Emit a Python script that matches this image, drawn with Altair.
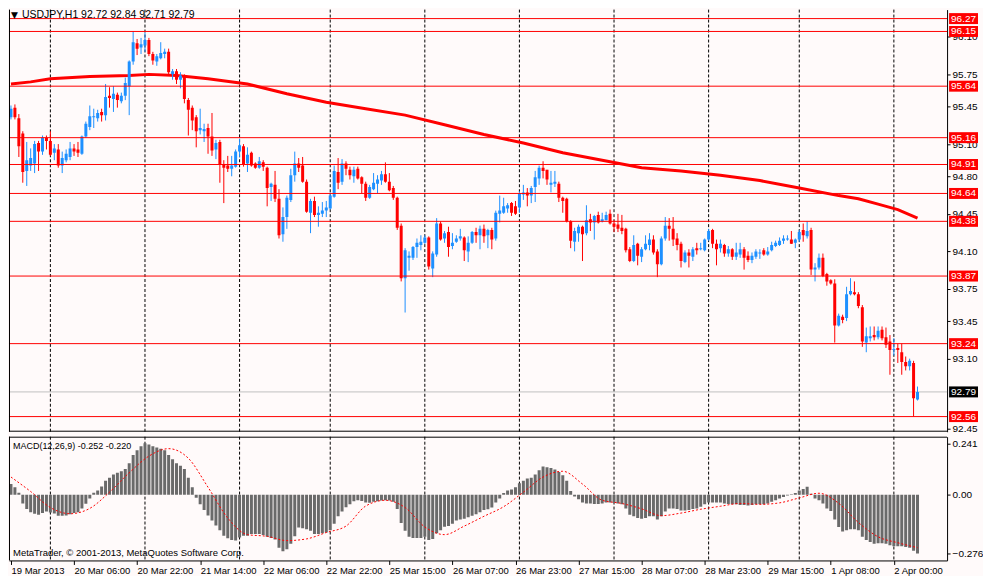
import altair as alt
import pandas as pd
import numpy as np

# ---------------- data ----------------
opens = [95.35,95.44,95.34,95.20,94.85,94.90,94.92,95.11,95.03,95.16,95.13,95.02,95.05,94.90,94.95,94.98,95.06,95.05,95.01,95.17,
         95.26,95.35,95.34,95.40,95.37,95.55,95.52,95.56,95.50,95.55,95.64,95.87,96.04,96.00,96.02,96.07,95.94,95.87,95.90,95.94,
         95.96,95.75,95.78,95.70,95.73,95.51,95.44,95.35,95.23,95.22,95.25,95.17,95.05,95.12,94.91,94.90,94.87,94.89,95.03,95.08,
         94.92,95.02,94.92,94.88,94.93,94.88,94.70,94.72,94.59,94.26,94.42,94.58,94.81,94.92,94.90,94.75,94.46,94.57,94.44,94.45,
         94.48,94.50,94.61,94.84,94.75,94.92,94.86,94.80,94.87,94.79,94.73,94.60,94.68,94.73,94.76,94.82,94.75,94.69,94.60,94.34,
         93.85,94.04,94.04,94.14,94.16,94.18,94.23,93.94,94.07,94.36,94.22,94.28,94.15,94.19,94.22,94.23,94.10,94.18,94.28,94.25,
         94.31,94.25,94.30,94.22,94.45,94.46,94.50,94.55,94.52,94.51,94.63,94.65,94.62,94.70,94.78,94.88,94.86,94.72,94.73,94.73,
         94.60,94.59,94.38,94.19,94.27,94.33,94.27,94.40,94.37,94.44,94.38,94.39,94.45,94.36,94.35,94.32,94.31,94.12,94.01,94.17,
         94.05,94.12,94.16,94.21,94.10,93.98,94.22,94.34,94.31,94.22,94.17,94.00,94.09,94.05,94.13,94.12,94.11,94.21,94.30,94.17,
         94.13,94.16,94.08,94.12,94.05,94.07,94.12,94.06,94.02,94.05,94.08,94.11,94.07,94.11,94.15,94.16,94.20,94.21,94.21,94.18,
         94.21,94.30,94.24,94.30,93.93,93.95,94.04,93.89,93.83,93.80,93.41,93.49,93.48,93.70,93.72,93.70,93.58,93.25,93.29,93.32,
         93.30,93.37,93.30,93.26,93.18,93.20,93.16,93.07,93.03,93.06,92.72]
highs = [95.46,95.47,95.38,95.22,95.12,95.06,95.13,95.13,95.18,95.18,95.22,95.10,95.10,95.03,95.05,95.12,95.10,95.12,95.18,95.31,
         95.46,95.43,95.42,95.43,95.66,95.63,95.64,95.58,95.58,95.72,95.88,96.15,96.08,96.09,96.14,96.09,95.96,95.94,96.05,95.99,
         95.99,95.80,95.80,95.77,95.75,95.53,95.46,95.37,95.43,95.29,95.29,95.39,95.14,95.14,94.95,94.99,94.99,95.05,95.15,95.10,
         95.07,95.03,94.93,94.98,94.95,94.89,94.74,94.85,94.68,94.51,94.62,94.87,95.03,94.97,94.98,94.77,94.59,94.61,94.52,94.56,
         94.57,94.65,94.90,94.97,94.96,94.94,94.89,94.89,94.89,94.80,94.75,94.72,94.83,94.81,94.85,94.93,94.83,94.71,94.61,94.36,
         94.13,94.10,94.15,94.22,94.25,94.25,94.24,94.10,94.41,94.38,94.29,94.33,94.27,94.25,94.31,94.24,94.24,94.29,94.32,94.34,
         94.35,94.31,94.32,94.48,94.62,94.60,94.55,94.56,94.57,94.66,94.72,94.69,94.71,94.85,94.90,94.94,94.86,94.85,94.85,94.75,
         94.61,94.60,94.39,94.32,94.35,94.34,94.53,94.45,94.44,94.47,94.46,94.47,94.49,94.39,94.45,94.44,94.32,94.14,94.25,94.18,
         94.14,94.25,94.27,94.25,94.12,94.24,94.42,94.41,94.42,94.27,94.19,94.11,94.12,94.14,94.18,94.18,94.22,94.31,94.31,94.21,
         94.21,94.17,94.15,94.13,94.18,94.18,94.14,94.10,94.09,94.12,94.12,94.13,94.14,94.19,94.20,94.23,94.25,94.25,94.29,94.22,
         94.30,94.36,94.38,94.32,93.99,94.08,94.08,93.90,93.84,93.84,93.52,93.51,93.77,93.85,93.82,93.72,93.60,93.39,93.40,93.40,
         93.40,93.40,93.39,93.32,93.29,93.24,93.24,93.12,93.10,93.08,92.84]
lows = [95.33,95.33,94.98,94.74,94.71,94.85,94.83,94.85,95.00,95.05,94.99,94.95,94.88,94.83,94.93,94.95,94.99,94.98,95.00,95.16,
        95.23,95.25,95.31,95.31,95.32,95.44,95.40,95.44,95.48,95.51,95.37,95.84,95.93,95.94,95.96,95.92,95.84,95.83,95.89,95.90,
        95.75,95.70,95.66,95.62,95.48,95.18,95.23,95.07,95.19,95.12,95.01,94.99,94.96,94.74,94.55,94.84,94.80,94.88,94.98,94.89,
        94.84,94.89,94.87,94.87,94.85,94.52,94.57,94.56,94.22,94.19,94.31,94.56,94.75,94.84,94.74,94.46,94.27,94.42,94.33,94.42,
        94.42,94.49,94.60,94.68,94.72,94.81,94.77,94.74,94.77,94.64,94.57,94.59,94.67,94.64,94.72,94.74,94.66,94.58,94.30,93.82,
        93.53,93.92,94.02,94.04,94.11,94.17,93.93,93.86,94.05,94.20,94.18,94.05,94.12,94.18,94.20,94.01,94.00,94.17,94.18,94.12,
        94.18,94.13,94.12,94.20,94.37,94.45,94.46,94.43,94.44,94.46,94.58,94.52,94.55,94.56,94.72,94.78,94.72,94.65,94.70,94.56,
        94.46,94.37,94.13,94.10,94.19,94.01,94.25,94.29,94.21,94.36,94.37,94.39,94.35,94.28,94.28,94.26,94.09,94.00,94.00,93.97,
        94.00,94.11,94.11,94.07,93.86,93.97,94.20,94.20,94.15,94.11,93.95,93.99,93.95,94.01,94.07,94.11,94.10,94.20,94.13,93.97,
        94.09,94.05,94.05,94.02,94.02,94.04,93.93,94.00,93.99,94.03,94.03,94.06,94.06,94.10,94.14,94.15,94.17,94.20,94.17,94.13,
        94.19,94.19,94.22,93.88,93.82,93.93,93.86,93.78,93.79,93.25,93.40,93.43,93.45,93.69,93.69,93.57,93.21,93.16,93.26,93.27,
        93.28,93.27,93.20,92.95,93.13,93.06,92.95,92.99,92.99,92.56,92.71]
closes = [95.43,95.35,95.08,94.84,94.95,94.97,95.10,95.03,95.16,95.13,95.00,95.06,94.90,94.97,95.01,95.06,95.03,95.02,95.17,95.29,
          95.36,95.36,95.39,95.37,95.54,95.53,95.57,95.51,95.55,95.67,95.87,96.05,95.99,96.03,96.07,95.94,95.88,95.92,95.95,95.96,
          95.77,95.78,95.70,95.74,95.52,95.42,95.32,95.22,95.25,95.24,95.17,95.04,95.11,94.91,94.88,94.87,94.90,95.03,95.09,94.91,
          95.00,94.90,94.88,94.94,94.89,94.69,94.73,94.59,94.25,94.42,94.60,94.81,94.92,94.88,94.75,94.47,94.57,94.44,94.46,94.48,
          94.51,94.62,94.85,94.74,94.92,94.87,94.81,94.86,94.78,94.73,94.60,94.70,94.74,94.77,94.82,94.75,94.67,94.60,94.32,93.85,
          94.11,94.06,94.14,94.18,94.19,94.23,93.96,94.08,94.36,94.21,94.27,94.14,94.18,94.22,94.24,94.11,94.18,94.28,94.25,94.31,
          94.24,94.30,94.21,94.46,94.48,94.52,94.53,94.46,94.45,94.64,94.65,94.62,94.69,94.79,94.88,94.85,94.77,94.74,94.75,94.60,
          94.57,94.38,94.20,94.29,94.33,94.26,94.39,94.37,94.43,94.37,94.40,94.44,94.36,94.33,94.31,94.29,94.11,94.01,94.16,94.06,
          94.12,94.17,94.21,94.09,93.98,94.22,94.34,94.31,94.21,94.16,94.01,94.09,94.06,94.12,94.11,94.13,94.21,94.29,94.17,94.12,
          94.17,94.08,94.12,94.05,94.09,94.12,94.04,94.02,94.06,94.10,94.09,94.07,94.10,94.16,94.18,94.20,94.22,94.22,94.17,94.21,
          94.28,94.25,94.29,93.93,93.95,94.04,93.87,93.82,93.80,93.41,93.50,93.46,93.70,93.73,93.70,93.59,93.26,93.31,93.31,93.30,
          93.36,93.29,93.23,93.18,93.19,93.18,93.07,93.03,93.08,92.73,92.79]

macd_hist = [0.050,0.035,0.009,-0.041,-0.067,-0.082,-0.089,-0.094,-0.086,-0.079,-0.083,-0.088,-0.098,-0.098,-0.097,-0.091,-0.086,-0.082,-0.064,-0.042,
             -0.018,0.009,0.020,0.039,0.065,0.080,0.095,0.103,0.110,0.121,0.148,0.186,0.209,0.227,0.241,0.236,0.227,0.221,0.216,0.209,
             0.186,0.166,0.148,0.136,0.121,0.080,0.035,-0.014,-0.045,-0.071,-0.097,-0.121,-0.144,-0.166,-0.192,-0.204,-0.212,-0.215,-0.200,-0.192,
             -0.192,-0.184,-0.184,-0.184,-0.189,-0.197,-0.203,-0.210,-0.248,-0.265,-0.256,-0.230,-0.195,-0.154,-0.157,-0.162,-0.169,-0.184,-0.184,-0.181,
             -0.177,-0.166,-0.136,-0.101,-0.079,-0.059,-0.045,-0.030,-0.026,-0.029,-0.036,-0.038,-0.033,-0.030,-0.027,-0.026,-0.027,-0.033,-0.067,-0.132,
             -0.169,-0.197,-0.203,-0.203,-0.203,-0.197,-0.212,-0.207,-0.181,-0.166,-0.150,-0.147,-0.136,-0.121,-0.116,-0.112,-0.106,-0.098,-0.091,-0.082,
             -0.071,-0.068,-0.060,-0.036,-0.018,0.008,0.020,0.024,0.035,0.054,0.065,0.076,0.080,0.095,0.115,0.132,0.129,0.125,0.118,0.106,
             0.091,0.065,0.017,-0.008,-0.021,-0.036,-0.041,-0.041,-0.044,-0.044,-0.041,-0.036,-0.036,-0.038,-0.041,-0.045,-0.064,-0.094,-0.101,-0.109,
             -0.112,-0.109,-0.101,-0.101,-0.116,-0.101,-0.079,-0.064,-0.064,-0.067,-0.074,-0.074,-0.071,-0.067,-0.064,-0.056,-0.045,-0.036,-0.036,-0.036,
             -0.036,-0.041,-0.044,-0.045,-0.045,-0.048,-0.048,-0.051,-0.048,-0.045,-0.045,-0.045,-0.041,-0.033,-0.026,-0.018,-0.011,-0.003,0.002,0.008,
             0.020,0.027,0.038,0.005,-0.018,-0.026,-0.041,-0.064,-0.076,-0.116,-0.151,-0.172,-0.166,-0.162,-0.162,-0.166,-0.197,-0.212,-0.222,-0.230,
             -0.227,-0.227,-0.230,-0.237,-0.242,-0.242,-0.242,-0.245,-0.248,-0.262,-0.276]

signal_idx = [0,5,10,15,20,25,30,35,40,45,50,55,60,65,70,75,80,85,90,95,100,105,110,115,120,125,130,135,140,145,150,
              155,160,165,170,175,180,185,190,195,200,205,210,215,220,225,230]
signal_val = [0.083,0.015,-0.060,-0.089,-0.064,0.012,0.103,0.181,0.216,0.171,0.035,-0.109,-0.187,-0.195,-0.215,-0.207,-0.177,
              -0.147,-0.053,-0.026,-0.060,-0.151,-0.187,-0.147,-0.101,-0.056,0.012,0.083,0.110,0.050,-0.026,-0.041,-0.066,
              -0.098,-0.086,-0.068,-0.054,-0.041,-0.045,-0.038,-0.015,0.007,-0.040,-0.130,-0.197,-0.225,-0.248]

ma_idx = [0,5,10,20,30,35,42,50,60,70,80,90,100,110,120,130,140,150,160,170,180,190,200,210,215,220,225,230]
ma_val = [95.66,95.68,95.71,95.73,95.74,95.75,95.74,95.71,95.66,95.57,95.49,95.43,95.37,95.28,95.19,95.11,95.02,94.95,
          94.88,94.85,94.81,94.76,94.69,94.62,94.59,94.54,94.49,94.41]

level_prices = [96.27, 96.15, 95.64, 95.16, 94.91, 94.64, 94.38, 93.87, 93.24, 92.56]
bid_price = [92.79]
price_ticks = [96.10, 95.75, 95.45, 95.10, 94.80, 94.45, 94.10, 93.75, 93.45, 93.10, 92.45]
macd_ticks = [0.241, 0.0, -0.276]
day_breaks = [10, 34, 58, 81, 105, 129, 153, 177, 200, 224]
time_label_idx = [0, 16, 32, 48, 64, 80, 96, 112, 128, 144, 160, 176, 192, 208, 224]
time_labels = ["19 Mar 2013", "20 Mar 06:00", "20 Mar 22:00", "21 Mar 14:00", "22 Mar 06:00", "22 Mar 22:00",
               "25 Mar 15:00", "26 Mar 07:00", "26 Mar 23:00", "27 Mar 15:00", "28 Mar 07:00", "28 Mar 23:00",
               "29 Mar 15:00", "1 Apr 08:00", "2 Apr 00:00"]
title_text = "USDJPY,H1  92.72 92.84 92.71 92.79"
macd_text = "MACD(12,26,9) -0.252 -0.220"
copyright_text = "MetaTrader, \u00a9 2001-2013, MetaQuotes Software Corp."

# ---------------- tables ----------------
n = len(opens)
candles = pd.DataFrame({"i": np.arange(n), "o": opens, "h": highs, "l": lows, "c": closes})
candles["dir"] = np.where(candles["c"] >= candles["o"], "up", "down")
hist = pd.DataFrame({"i": np.arange(len(macd_hist)), "v": macd_hist})
sig = pd.DataFrame({"i": signal_idx, "v": signal_val})
ma = pd.DataFrame({"i": ma_idx, "p": ma_val})
levels = pd.DataFrame({"p": level_prices})
bid = pd.DataFrame({"p": bid_price})
days = pd.DataFrame({"i": day_breaks})

# ---------------- layout / style ----------------
W = 940
H_MAIN = 423
H_MACD = 124
FONT = "Liberation Sans"
BG = "#fffafa"
xs = alt.Scale(domain=[-0.5, 237.5], nice=False, zero=False, padding=0)
ps = alt.Scale(domain=[92.419, 96.354], nice=False, zero=False, padding=0)
ms = alt.Scale(domain=[-0.308, 0.272], nice=False, zero=False, padding=0)

price_axis = alt.Axis(orient="right", values=price_ticks, format=".2f", grid=False, domain=True,
                      domainColor="black", domainWidth=1, ticks=True, tickSize=3, tickColor="black",
                      labelFont=FONT, labelFontSize=10, labelColor="black", labelPadding=2,
                      labelFlush=False, labelOverlap=False, title=None)
macd_axis = alt.Axis(orient="right", values=macd_ticks,
                     labelExpr="datum.value == 0 ? '0.00' : format(datum.value, '.3f')",
                     grid=False, domain=True, domainColor="black", ticks=True, tickSize=3,
                     tickColor="black", labelFont=FONT, labelFontSize=10, labelColor="black",
                     labelPadding=2, labelFlush=False, labelOverlap=False, title=None)
label_arr = "[" + ",".join("'" + t + "'" for t in time_labels) + "]"
time_axis = alt.Axis(orient="bottom", values=time_label_idx,
                     labelExpr=label_arr + "[round(datum.value/16)]",
                     grid=False, domain=True, domainColor="black", ticks=True, tickSize=4,
                     tickColor="black", labelAlign="left", labelBaseline="top", labelFont=FONT,
                     labelFontSize=9.5, labelColor="black", labelPadding=1, labelFlush=False,
                     labelOverlap=False, title=None)

X_main = alt.X("i:Q", scale=xs, axis=None)
col = alt.Color("dir:N", scale=alt.Scale(domain=["up", "down"], range=["#1e90ff", "#ff0000"]), legend=None)

grid_main = alt.Chart(days).mark_rule(color="black", strokeDash=[3, 2], strokeWidth=1).encode(x=X_main)
bid_line = alt.Chart(bid).mark_rule(color="#c0c0c0", strokeWidth=1).encode(y=alt.Y("p:Q", scale=ps, axis=price_axis))
ma_line = alt.Chart(ma).mark_line(color="#ff0000", strokeWidth=3, clip=True).encode(
    x=X_main, y=alt.Y("p:Q", scale=ps, axis=price_axis))
wicks = alt.Chart(candles).mark_rule(strokeWidth=1, clip=True).encode(
    x=X_main, y=alt.Y("l:Q", scale=ps, axis=price_axis), y2="h:Q", color=col)
bodies = alt.Chart(candles).mark_bar(size=3, clip=True).encode(
    x=X_main, y=alt.Y("o:Q", scale=ps, axis=price_axis), y2="c:Q", color=col)
level_lines = alt.Chart(levels).mark_rule(color="#ff0000", strokeWidth=1).encode(
    y=alt.Y("p:Q", scale=ps, axis=price_axis))
level_boxes = alt.Chart(levels).mark_tick(color="#ff0000", thickness=11, size=29, orient="horizontal", opacity=1).encode(
    x=alt.value(W + 16.5), y=alt.Y("p:Q", scale=ps, axis=price_axis))
level_text = alt.Chart(levels).mark_text(color="white", align="left", baseline="middle", font=FONT, fontSize=10).encode(
    x=alt.value(W + 4), y=alt.Y("p:Q", scale=ps, axis=price_axis), text=alt.Text("p:Q", format=".2f"))
bid_box = alt.Chart(bid).mark_tick(color="black", thickness=11, size=29, orient="horizontal", opacity=1).encode(
    x=alt.value(W + 16.5), y=alt.Y("p:Q", scale=ps, axis=price_axis))
bid_text = alt.Chart(bid).mark_text(color="white", align="left", baseline="middle", font=FONT, fontSize=10).encode(
    x=alt.value(W + 4), y=alt.Y("p:Q", scale=ps, axis=price_axis), text=alt.Text("p:Q", format=".2f"))
tri = alt.Chart(pd.DataFrame({"t": ["\u25bc"]})).mark_text(font="DejaVu Sans", fontSize=9, align="left", baseline="top", color="black").encode(
    x=alt.value(2), y=alt.value(1), text="t:N")
title = alt.Chart(pd.DataFrame({"t": [title_text]})).mark_text(font=FONT, fontSize=10.5, align="left", baseline="top", color="black").encode(
    x=alt.value(13), y=alt.value(0), text="t:N")
left_border = alt.Chart(pd.DataFrame({"a": [0]})).mark_rule(color="black").encode(
    x=alt.value(0.5), y=alt.value(0), y2=alt.value(H_MAIN))
bottom_border = alt.Chart(pd.DataFrame({"a": [0]})).mark_rule(color="black").encode(
    x=alt.value(0), x2=alt.value(W), y=alt.value(H_MAIN - 0.5))

main = alt.layer(grid_main, bid_line, ma_line, wicks, bodies, level_lines, level_boxes, level_text,
                 bid_box, bid_text, tri, title, left_border, bottom_border).properties(width=W, height=H_MAIN)

X_m = alt.X("i:Q", scale=xs, axis=time_axis)
grid_m = alt.Chart(days).mark_rule(color="black", strokeDash=[3, 2], strokeWidth=1).encode(x=X_m)
bars = alt.Chart(hist).mark_bar(size=3, color="#6a6a6a", clip=True).encode(
    x=X_m, y=alt.Y("v:Q", scale=ms, axis=macd_axis))
sig_line = alt.Chart(sig).mark_line(color="#ff0000", strokeWidth=1, strokeDash=[2, 2], interpolate="monotone", clip=True).encode(
    x=X_m, y=alt.Y("v:Q", scale=ms, axis=macd_axis))
mtxt = alt.Chart(pd.DataFrame({"t": [macd_text]})).mark_text(font=FONT, fontSize=9, align="left", baseline="middle", color="black").encode(
    x=alt.value(4), y=alt.value(9), text="t:N")
ctxt = alt.Chart(pd.DataFrame({"t": [copyright_text]})).mark_text(font=FONT, fontSize=9.5, align="left", baseline="middle", color="black").encode(
    x=alt.value(4), y=alt.value(H_MACD - 7), text="t:N")
m_left = alt.Chart(pd.DataFrame({"a": [0]})).mark_rule(color="black").encode(
    x=alt.value(0.5), y=alt.value(0), y2=alt.value(H_MACD))
m_top = alt.Chart(pd.DataFrame({"a": [0]})).mark_rule(color="black").encode(
    x=alt.value(0), x2=alt.value(W), y=alt.value(0.5))

macd = alt.layer(grid_m, bars, sig_line, mtxt, ctxt, m_left, m_top).properties(width=W, height=H_MACD)

chart = alt.vconcat(main, macd, spacing=2).properties(padding=0, background=BG).configure_view(stroke=None)

chart.save("out.html", embed_options={"renderer": "svg", "actions": False})
